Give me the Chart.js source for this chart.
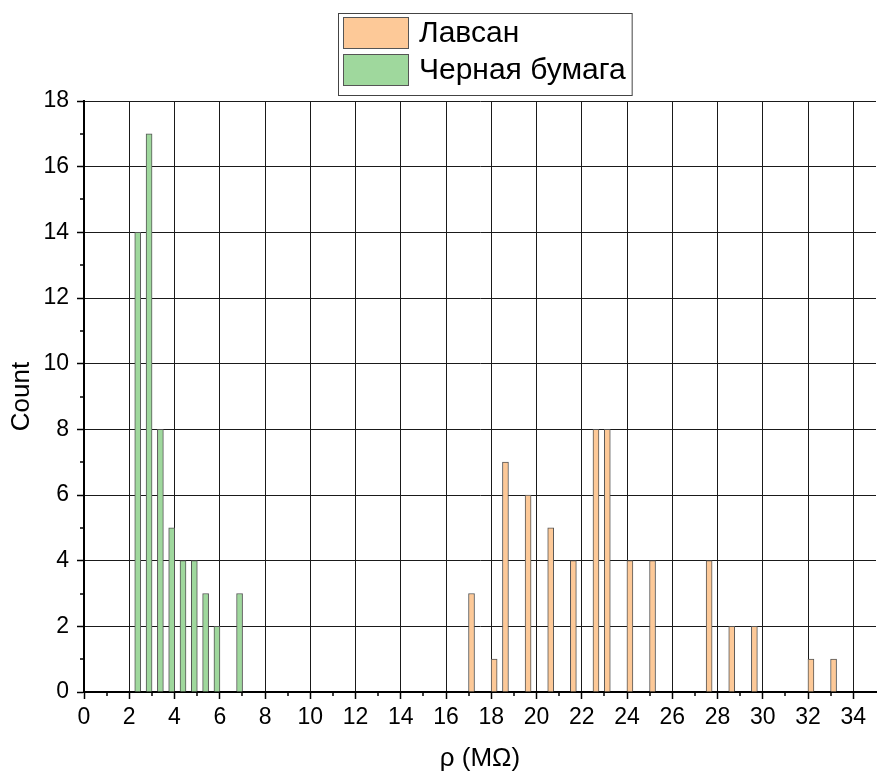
<!DOCTYPE html>
<html>
<head>
<meta charset="utf-8">
<script src="https://cdn.jsdelivr.net/npm/chart.js@4.4.1/dist/chart.umd.min.js"></script>
<style>
html,body{margin:0;padding:0;background:#fff;overflow:hidden}
#wrap{width:880px;height:776px;overflow:hidden}
canvas{display:block}
</style>
</head>
<body>
<div id="wrap"><canvas id="chart" width="881" height="776"></canvas></div>
<script>
// histogram bins (centre of each bar, MΩ) and counts
const lavsanBins=[17.125,18.125,18.625,19.625,20.625,21.625,22.625,23.125,24.125,25.125,27.625,28.625,29.625,32.125,33.125]
const lavsanCounts=[3,1,7,6,5,4,8,8,4,4,4,2,2,1,1]
const paperBins=[2.375,2.875,3.375,3.875,4.375,4.875,5.375,5.875,6.875]
const paperCounts=[14,17,8,5,4,4,3,2,3]
const seriesNames=['Лавсан','Черная бумага']
const seriesColors=['#fdc998','#9fd89d']
const xTitle='ρ (MΩ)'
const yTitle='Count'

const FONT='"Liberation Sans", Arial, sans-serif'
const isMajor=v=>Math.round(v)%2===0

const toPoints=(xs,ys)=>xs.map((x,i)=>({x:x,y:ys[i]}))

// short ticks for the odd (minor) values
const minorTicks={
id:'minorTicks',
afterDraw(chart){
const c=chart.ctx,a=chart.chartArea
const sx=chart.scales.x,sy=chart.scales.y
c.save()
c.strokeStyle='#000'
c.lineWidth=1.5
c.beginPath()
for(let v=1;v<sx.max;v+=2){
const px=Math.round(sx.getPixelForValue(v))
c.moveTo(px,a.bottom)
c.lineTo(px,a.bottom+4)
}
for(let v=1;v<sy.max;v+=2){
const py=Math.round(sy.getPixelForValue(v))
c.moveTo(a.left-4,py)
c.lineTo(a.left,py)
}
c.stroke()
c.restore()
}
}

// framed legend with big swatches, stacked vertically
const boxLegend={
id:'boxLegend',
afterDraw(chart){
const c=chart.ctx
const ds=chart.data.datasets
const left=338,top=13,rowH=37,swW=66,swH=32
c.save()
c.font='30px '+FONT
let tw=0
ds.forEach(d=>{tw=Math.max(tw,c.measureText(d.label).width)})
const w=5+swW+10+tw+6
const h=4+rowH*ds.length+4
c.fillStyle='#fff'
c.fillRect(left,top,w,h)
c.strokeStyle='#444'
c.lineWidth=1
c.strokeRect(left+0.5,top+0.5,w,h)
ds.forEach((d,i)=>{
const y=top+4+i*rowH
c.fillStyle=d.backgroundColor
c.fillRect(left+5,y,swW,swH)
c.strokeStyle='#555'
c.strokeRect(left+5.5,y+0.5,swW-1,swH-1)
c.fillStyle='#000'
c.textBaseline='middle'
c.fillText(d.label,left+5+swW+10,y+swH/2+1)
})
c.restore()
}
}

new Chart(document.getElementById('chart'),{
type:'bar',
data:{
datasets:[
{label:seriesNames[0],data:toPoints(lavsanBins,lavsanCounts),backgroundColor:seriesColors[0],borderColor:'#555',borderWidth:1,barThickness:6,grouped:false},
{label:seriesNames[1],data:toPoints(paperBins,paperCounts),backgroundColor:seriesColors[1],borderColor:'#555',borderWidth:1,barThickness:6,grouped:false}
]
},
options:{
responsive:false,
animation:false,
layout:{padding:{top:101,left:0,right:0,bottom:0}},
plugins:{legend:{display:false},tooltip:{enabled:false}},
scales:{
x:{
type:'linear',min:0,max:35,offset:false,
afterFit(s){s.height=84},
ticks:{stepSize:1,autoSkip:false,maxRotation:0,padding:5,color:'#000',font:{family:FONT,size:23},
callback:v=>isMajor(v)?String(v):''},
grid:{offset:false,color:c=>isMajor(c.tick.value)?'#1a1a1a':'rgba(0,0,0,0)',lineWidth:1,
tickLength:7,tickWidth:1.5,tickColor:c=>isMajor(c.tick.value)?'#000':'rgba(0,0,0,0)'},
border:{color:'#000',width:2},
title:{display:true,text:xTitle,color:'#000',font:{family:FONT,size:26},padding:{top:0,bottom:2}}
},
y:{
min:0,max:18,
afterFit(s){s.width=84},
ticks:{stepSize:1,autoSkip:false,padding:8,color:'#000',font:{family:FONT,size:23},
callback:v=>isMajor(v)?String(v):''},
grid:{color:c=>isMajor(c.tick.value)?'#1a1a1a':'rgba(0,0,0,0)',lineWidth:1,
tickLength:7,tickWidth:1.5,tickColor:c=>isMajor(c.tick.value)?'#000':'rgba(0,0,0,0)'},
border:{color:'#000',width:2},
title:{display:true,text:yTitle,color:'#000',font:{family:FONT,size:26},padding:{top:6,bottom:0}}
}
}
},
plugins:[minorTicks,boxLegend]
})
</script>
</body>
</html>
